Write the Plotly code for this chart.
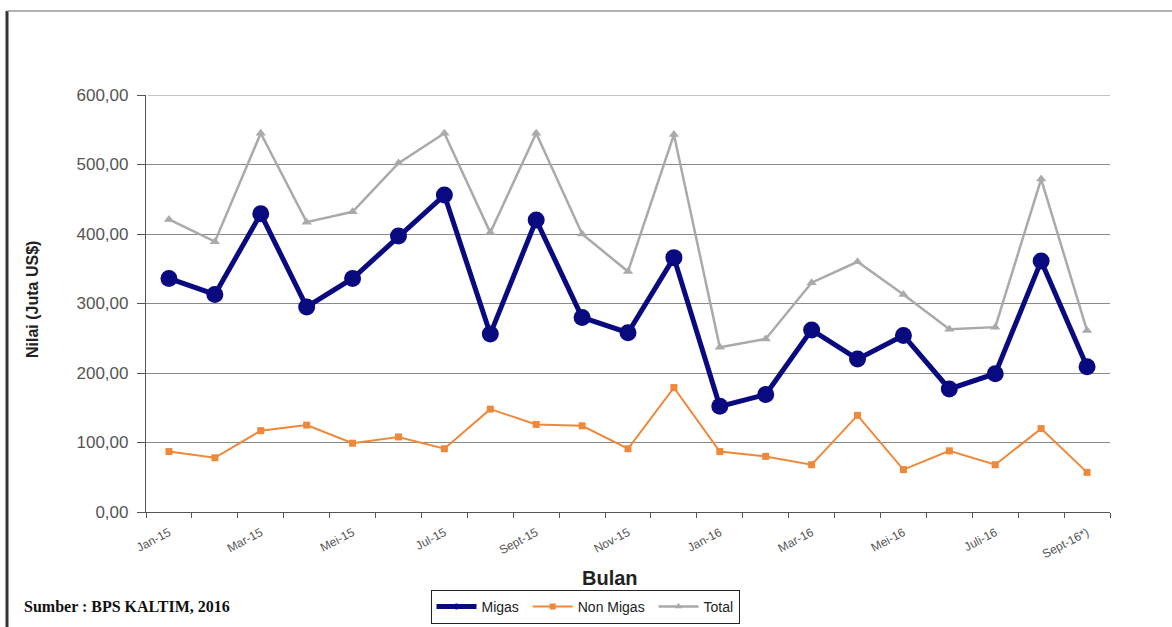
import plotly.graph_objects as go

months = ["Jan-15", "Feb-15", "Mar-15", "Apr-15", "Mei-15", "Jun-15", "Jul-15", "Agu-15",
          "Sept-15", "Okt-15", "Nov-15", "Des-15", "Jan-16", "Feb-16", "Mar-16", "Apr-16",
          "Mei-16", "Jun-16", "Juli-16", "Agu-16", "Sept-16*)"]
tick_labels = ["Jan-15", "Mar-15", "Mei-15", "Jul-15", "Sept-15", "Nov-15",
               "Jan-16", "Mar-16", "Mei-16", "Juli-16", "Sept-16*)"]
migas = [336, 313, 429, 295, 336, 397, 456, 256, 420, 280, 258,
         366, 152, 169, 262, 220, 254, 177, 199, 361, 209]
non_migas = [87, 78, 117, 125, 99, 108, 91, 148, 126, 124, 91,
             179, 87, 80, 68, 139, 61, 88, 68, 120, 57]
total = [421, 389, 545, 417, 432, 502, 545, 402, 545, 400, 346,
         543, 237, 249, 330, 360, 313, 263, 266, 479, 261]

x = list(range(len(months)))
tick_idx = [months.index(t) for t in tick_labels]

NAVY, ORANGE, GREY = "#0a0a80", "#f0883a", "#aaaaaa"

fig = go.Figure()
fig.add_trace(go.Scatter(x=x, y=migas, name="Migas", mode="lines+markers", showlegend=False,
                         line=dict(color=NAVY, width=5),
                         marker=dict(symbol="circle", size=17, color=NAVY)))
fig.add_trace(go.Scatter(x=x, y=non_migas, name="Non Migas", mode="lines+markers", showlegend=False,
                         line=dict(color=ORANGE, width=2),
                         marker=dict(symbol="square", size=7, color=ORANGE)))
fig.add_trace(go.Scatter(x=x, y=total, name="Total", mode="lines+markers", showlegend=False,
                         line=dict(color=GREY, width=2.5),
                         marker=dict(symbol="triangle-up", size=9, color=GREY)))
# legend entries (small markers as in the original legend)
fig.add_trace(go.Scatter(x=[None], y=[None], name="Migas ", mode="lines+markers",
                         line=dict(color=NAVY, width=5), marker=dict(size=6, color=NAVY)))
fig.add_trace(go.Scatter(x=[None], y=[None], name="Non Migas ", mode="lines+markers",
                         line=dict(color=ORANGE, width=2), marker=dict(symbol="square", size=6, color=ORANGE)))
fig.add_trace(go.Scatter(x=[None], y=[None], name="Total", mode="lines+markers",
                         line=dict(color=GREY, width=2.5), marker=dict(symbol="triangle-up", size=7, color=GREY)))

W, H = 1172, 627
L, R, T, B = 146, 62, 95, 115
pw, ph = W - L - R, H - T - B

def px(xp):
    return (xp - L) / pw

def py(yp):
    return (H - B - yp) / ph

fig.update_layout(
    width=W, height=H,
    margin=dict(l=L, r=R, t=T, b=B, autoexpand=False),
    paper_bgcolor="white", plot_bgcolor="white",
    separators=",.",
    font=dict(family="Liberation Sans, Arial", size=12, color="#333"),
    showlegend=True,
    legend=dict(orientation="h", x=px(585), y=py(590), xanchor="center", yanchor="top",
                bordercolor="#222", borderwidth=1, font=dict(size=14, color="#222"),
                itemwidth=40, tracegroupgap=0, bgcolor="white"),
    xaxis=dict(range=[-0.5, len(months) - 0.5], tickmode="array", tickvals=tick_idx,
               ticktext=tick_labels, tickangle=-28, ticks="", showgrid=False,
               showline=True, linecolor="#555", linewidth=1.2, zeroline=False,
               ticklabelstandoff=8,
               tickfont=dict(size=12, color="#555"),
               minor=dict(tick0=-0.5, dtick=1, ticks="outside", ticklen=5,
                          tickcolor="#555", showgrid=False)),
    yaxis=dict(range=[0, 600], tickvals=[0, 100, 200, 300, 400, 500, 600],
               tickformat=".2f", ticks="outside", ticklen=8, tickcolor="#555",
               ticklabelstandoff=5,
               showgrid=True, gridcolor="#8a8a8a", gridwidth=1.2,
               showline=True, linecolor="#555", linewidth=1.2, zeroline=False,
               tickfont=dict(size=17, color="#555")),
    annotations=[
        dict(text="<b>Bulan</b>", x=px(610), y=py(578), xref="paper", yref="paper",
             xanchor="center", yanchor="middle",
             showarrow=False, font=dict(size=20, color="#222")),
        dict(text="<b>Nilai (Juta US$)</b>", x=px(32), y=py(300), xref="paper", yref="paper",
             xanchor="center", yanchor="middle",
             showarrow=False, textangle=-90, font=dict(size=16, color="#222")),
        dict(text="<b>Sumber : BPS KALTIM, 2016</b>", x=px(22), y=py(606), xref="paper",
             yref="paper", xanchor="left", yanchor="middle", showarrow=False,
             font=dict(size=16, color="#111", family="Liberation Serif, Times New Roman")),
    ],
    shapes=[
        dict(type="line", xref="paper", yref="y", x0=0.002, x1=1, y0=600, y1=600,
             layer="below", line=dict(color="#c4c4c4", width=2)),
        dict(type="line", xref="paper", yref="paper", x0=px(7), x1=px(7), y0=py(11), y1=py(627),
             line=dict(color="#333", width=3)),
        dict(type="line", xref="paper", yref="paper", x0=px(7), x1=px(1172), y0=py(11), y1=py(11),
             line=dict(color="#999", width=1.5)),
    ],
)

fig.write_html("out.html")
